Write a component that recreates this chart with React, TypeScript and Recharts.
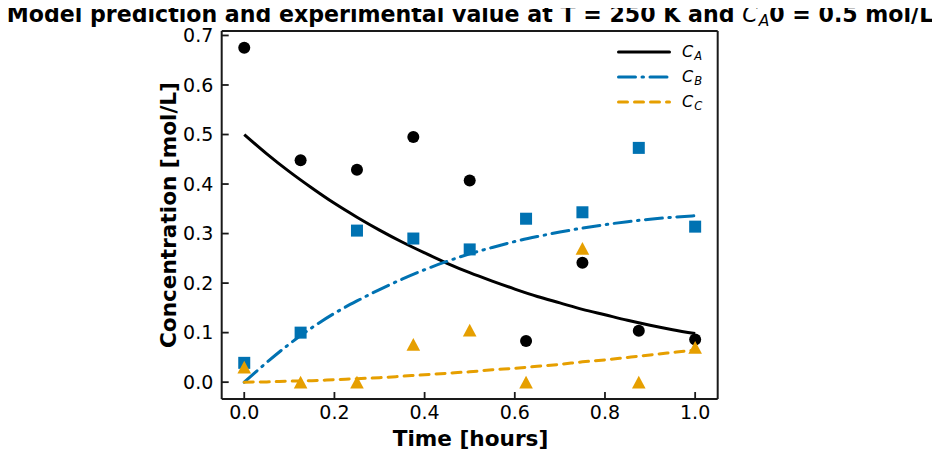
import React from 'react';
import { ComposedChart, Line, Scatter, XAxis, YAxis, Legend } from 'recharts';

// Model curves
const timeModel = [0, 0.05, 0.1, 0.15, 0.2, 0.25, 0.3, 0.35, 0.4, 0.45, 0.5, 0.55, 0.6, 0.65, 0.7, 0.75, 0.8, 0.85, 0.9, 0.95, 1.0];
const caModel = [0.5, 0.461, 0.425, 0.392, 0.361, 0.333, 0.307, 0.283, 0.261, 0.240, 0.221, 0.204, 0.188, 0.173, 0.160, 0.147, 0.136, 0.125, 0.115, 0.106, 0.098];
const cbModel = [0, 0.040, 0.077, 0.110, 0.139, 0.164, 0.187, 0.208, 0.227, 0.244, 0.259, 0.272, 0.284, 0.294, 0.303, 0.311, 0.318, 0.324, 0.329, 0.333, 0.336];
const ccModel = [0, 0.0005, 0.002, 0.003, 0.005, 0.007, 0.009, 0.012, 0.015, 0.018, 0.021, 0.025, 0.028, 0.032, 0.036, 0.041, 0.045, 0.050, 0.055, 0.060, 0.065];

// Experimental values
const timeExp = [0, 0.125, 0.25, 0.375, 0.5, 0.625, 0.75, 0.875, 1.0];
const caExp = [0.675, 0.448, 0.429, 0.495, 0.407, 0.083, 0.241, 0.104, 0.086];
const cbExp = [0.039, 0.100, 0.306, 0.290, 0.268, 0.330, 0.343, 0.473, 0.314];
const ccExp = [0.030, 0.000, 0.000, 0.076, 0.105, 0.000, 0.270, 0.000, 0.070];

const xTicks = [0, 0.2, 0.4, 0.6, 0.8, 1.0];
const yTicks = [0, 0.1, 0.2, 0.3, 0.4, 0.5, 0.6, 0.7];
const xDomain = [-0.05, 1.05];
const yDomain = [-0.034, 0.709];

const legendSubs = ['A', 'B', 'C'];

const FONT = '"DejaVu Sans", sans-serif';
const BLACK = '#000000';
const BLUE = '#0072B2';
const ORANGE = '#E69F00';
const AXIS = '#1a1a1a';

const toPts = (xs: number[], ys: number[]) => xs.map((t, i) => ({ t, y: ys[i] }));

const lineA = toPts(timeModel, caModel);
const lineB = toPts(timeModel, cbModel);
const lineC = toPts(timeModel, ccModel);
const expA = toPts(timeExp, caExp);
const expB = toPts(timeExp, cbExp);
const expC = toPts(timeExp, ccExp);

const CircleShape = (p: any) =>
  p.cx == null ? <g /> : <circle cx={p.cx} cy={p.cy} r={6} fill={BLACK} />;
const SquareShape = (p: any) =>
  p.cx == null ? <g /> : <rect x={p.cx - 6} y={p.cy - 6} width={12} height={12} fill={BLUE} />;
const TriShape = (p: any) =>
  p.cx == null ? (
    <g />
  ) : (
    <polygon
      points={`${p.cx},${p.cy - 6.5} ${p.cx - 6.8},${p.cy + 6.3} ${p.cx + 6.8},${p.cy + 6.3}`}
      fill={ORANGE}
    />
  );

const legendStyles = [
  { color: BLACK, dash: undefined as string | undefined },
  { color: BLUE, dash: '17 6.5 1.5 6.5' },
  { color: ORANGE, dash: '9 7' },
];

const renderLegend = () => (
  <div style={{ fontFamily: FONT, fontSize: 16, color: '#000' }}>
    {legendSubs.map((s, i) => (
      <div key={s} style={{ height: 24.7, display: 'flex', alignItems: 'center' }}>
        <svg width={54} height={8} style={{ display: 'block' }}>
          <line
            x1={1.5}
            x2={52.5}
            y1={4}
            y2={4}
            stroke={legendStyles[i].color}
            strokeWidth={3}
            strokeLinecap="round"
            strokeDasharray={legendStyles[i].dash}
          />
        </svg>
        <span style={{ marginLeft: 11, fontStyle: 'italic', lineHeight: 1 }}>
          C
          <span style={{ fontSize: 11.5, position: 'relative', top: 3, marginLeft: 1 }}>{s}</span>
        </span>
      </div>
    ))}
  </div>
);

const tickStyle = { fontFamily: FONT, fontSize: 19, fill: '#000' };
const fmt = (v: number) => v.toFixed(1);

export default function App() {
  return (
    <div style={{ position: 'relative', width: 932, height: 450, fontFamily: FONT }}>
      <div
        style={{
          position: 'absolute',
          left: 462,
          top: -4.7,
          transform: 'translateX(-50%)',
          whiteSpace: 'nowrap',
          fontSize: 22.1,
          lineHeight: 1,
          fontWeight: 'bold',
          color: '#000',
        }}
      >
        Model prediction and experimental value at T = 250 K and{' '}
        <span style={{ fontStyle: 'italic', fontWeight: 'normal' }}>
          C<span style={{ fontSize: 15.5, position: 'relative', top: 4, marginLeft: 1 }}>A</span>
        </span>
        0 = 0.5 mol/L
      </div>
      <ComposedChart
        width={932}
        height={450}
        margin={{ top: 13, right: 212.3, bottom: 19, left: 153.7 }}
      >
        <XAxis
          xAxisId="bottom"
          dataKey="t"
          type="number"
          domain={xDomain}
          ticks={xTicks}
          allowDataOverflow
          orientation="bottom"
          height={40}
          tickSize={-7}
          tickMargin={14}
          tickFormatter={fmt}
          tick={tickStyle}
          axisLine={{ stroke: AXIS, strokeWidth: 2 }}
          tickLine={{ stroke: AXIS, strokeWidth: 1.8 }}
        />
        <XAxis
          xAxisId="top"
          dataKey="t"
          type="number"
          domain={xDomain}
          ticks={xTicks}
          allowDataOverflow
          orientation="top"
          height={10}
          tickSize={-7}
          tick={false}
          axisLine={{ stroke: AXIS, strokeWidth: 2 }}
          tickLine={{ stroke: AXIS, strokeWidth: 1.8 }}
        />
        <YAxis
          yAxisId="left"
          type="number"
          domain={yDomain}
          ticks={yTicks}
          allowDataOverflow
          orientation="left"
          width={60}
          tickSize={-7}
          tickMargin={15.4}
          tickFormatter={fmt}
          tick={tickStyle}
          axisLine={{ stroke: AXIS, strokeWidth: 2 }}
          tickLine={{ stroke: AXIS, strokeWidth: 1.8 }}
        />
        <YAxis
          yAxisId="right"
          type="number"
          domain={yDomain}
          ticks={yTicks}
          allowDataOverflow
          orientation="right"
          width={10}
          tickSize={-7}
          tick={false}
          axisLine={{ stroke: AXIS, strokeWidth: 2 }}
          tickLine={{ stroke: AXIS, strokeWidth: 1.8 }}
        />
        <Legend
          layout="vertical"
          align="center"
          verticalAlign="middle"
          content={renderLegend}
          wrapperStyle={{ position: 'absolute', left: 609, top: 32, width: 100, height: 80 }}
        />
        <Line
          xAxisId="bottom"
          yAxisId="left"
          data={lineA}
          dataKey="y"
          type="monotone"
          stroke={BLACK}
          strokeWidth={3}
          dot={false}
          activeDot={false}
          isAnimationActive={false}
        />
        <Line
          xAxisId="bottom"
          yAxisId="left"
          data={lineB}
          dataKey="y"
          type="monotone"
          stroke={BLUE}
          strokeWidth={3}
          strokeDasharray="17 6.5 1.5 6.5"
          strokeLinecap="round"
          dot={false}
          activeDot={false}
          isAnimationActive={false}
        />
        <Line
          xAxisId="bottom"
          yAxisId="left"
          data={lineC}
          dataKey="y"
          type="monotone"
          stroke={ORANGE}
          strokeWidth={3}
          strokeDasharray="9 7"
          strokeLinecap="round"
          dot={false}
          activeDot={false}
          isAnimationActive={false}
        />
        <Scatter
          xAxisId="bottom"
          yAxisId="left"
          data={expA}
          dataKey="y"
          shape={CircleShape}
          isAnimationActive={false}
        />
        <Scatter
          xAxisId="bottom"
          yAxisId="left"
          data={expB}
          dataKey="y"
          shape={SquareShape}
          isAnimationActive={false}
        />
        <Scatter
          xAxisId="bottom"
          yAxisId="left"
          data={expC}
          dataKey="y"
          shape={TriShape}
          isAnimationActive={false}
        />
      </ComposedChart>
      <div
        style={{
          position: 'absolute',
          left: 462.5,
          top: 420.4,
          transform: 'translateX(-50%)',
          whiteSpace: 'nowrap',
          fontSize: 21.6,
          lineHeight: 1,
          fontWeight: 'bold',
          color: '#000',
        }}
      >
        Time [hours]
      </div>
      <div
        style={{
          position: 'absolute',
          left: 161.2,
          top: 207,
          transform: 'translate(-50%, -50%) rotate(-90deg)',
          whiteSpace: 'nowrap',
          fontSize: 21.6,
          lineHeight: 1,
          fontWeight: 'bold',
          color: '#000',
        }}
      >
        Concentration [mol/L]
      </div>
    </div>
  );
}
